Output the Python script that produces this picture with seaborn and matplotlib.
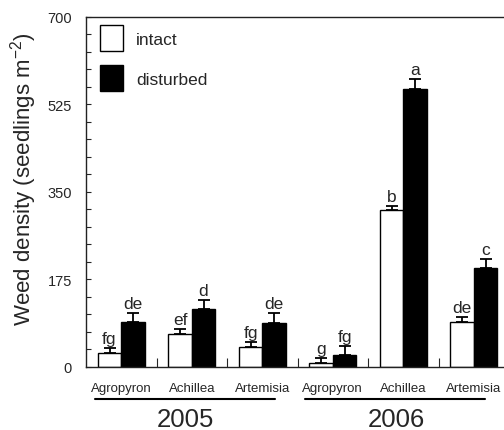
import matplotlib
matplotlib.use("Agg")
import matplotlib.pyplot as plt
import matplotlib.transforms as mtransforms
from matplotlib.patches import Patch
import seaborn as sns
import pandas as pd
import numpy as np

# ---- data ----
years = ["2005", "2006"]
species = ["Agropyron", "Achillea", "Artemisia"]
treatments = ["intact", "disturbed"]
intact = [28.5, 66, 40.5, 8, 313, 90.5]
intact_se = [10, 10, 10, 10, 9, 10]
disturbed = [89, 115, 88.5, 24, 556, 197]
disturbed_se = [19, 18.5, 19, 18.5, 19.5, 18]
letters_intact = ["fg", "ef", "fg", "g", "b", "de"]
letters_disturbed = ["de", "d", "de", "fg", "a", "c"]
y_ticks = [0, 175, 350, 525, 700]

groups = [f"{s} {y}" for y in years for s in species]
species_labels = [s for y in years for s in species]

df = pd.DataFrame({
    "group": groups * 2,
    "treatment": ["intact"] * 6 + ["disturbed"] * 6,
    "density": intact + disturbed,
})

sns.set_theme(style="ticks")
plt.rcParams["font.family"] = ["Liberation Sans", "DejaVu Sans"]
plt.rcParams["mathtext.fontset"] = "custom"
plt.rcParams["mathtext.rm"] = "Liberation Sans"

fig = plt.figure(figsize=(5.04, 4.31), dpi=100)
ax = fig.add_axes([86 / 504, 63 / 431, 423 / 504, 350.5 / 431])

sns.barplot(data=df, x="group", y="density", hue="treatment", order=groups,
            hue_order=treatments, palette={"intact": "white", "disturbed": "black"},
            edgecolor="black", linewidth=1.0, width=2 / 3, errorbar=None,
            legend=False, ax=ax)

# error bars and letters
bars = list(ax.patches)[:12]
heights = intact + disturbed
errs = intact_se + disturbed_se
letters = letters_intact + letters_disturbed
xs = [p.get_x() + p.get_width() / 2 for p in bars]
ax.errorbar(xs, heights, yerr=[np.zeros(12), errs], fmt="none", ecolor="black",
            elinewidth=1.3, capsize=4.5, capthick=1.3, zorder=3)
for x, h, e, t in zip(xs, heights, errs, letters):
    ax.annotate(t, xy=(x, h + e), xytext=(0, 3.5), textcoords="offset points",
                ha="center", va="baseline", fontsize=12.5)

ax.set_xlim(-0.5, 5.5)
ax.set_ylim(0, 700)
ax.set_yticks(y_ticks)
ax.set_yticklabels([str(v) for v in y_ticks])
ax.set_yticks(np.arange(0, 701, 35), minor=True)
ax.tick_params(axis="y", which="both", direction="in", length=3.6, width=0.8,
               labelsize=10.5, pad=10)
ax.set_xticks(range(6))
ax.set_xticklabels(species_labels)
ax.tick_params(axis="x", which="major", length=0, labelsize=9.5, pad=11)
ax.set_xticks(np.arange(0.5, 5, 1), minor=True)
ax.tick_params(axis="x", which="minor", direction="in", length=6.5, width=0.8)
ax.set_xlabel("")
ax.set_ylabel(r"Weed density (seedlings m$^{\mathregular{-2}}$)", fontsize=16)
ax.yaxis.set_label_coords(-0.111, 0.539)
for s in ax.spines.values():
    s.set_linewidth(1.0)
    s.set_color("#222222")

# year lines and labels
trans = mtransforms.blended_transform_factory(ax.transData, ax.transAxes)
year_lines = [(-0.372, 2.18), (2.606, 5.16)]
year_centers = [0.904, 3.904]
for (x0, x1), xc, yr in zip(year_lines, year_centers, years):
    ax.plot([x0, x1], [-0.0913, -0.0913], color="black", lw=1.5,
            transform=trans, clip_on=False)
    ax.text(xc, -0.168, yr, transform=trans, ha="center", va="baseline", fontsize=18.5)

# legend
handles = [Patch(facecolor="white", edgecolor="black", linewidth=1.0, label="intact"),
           Patch(facecolor="black", edgecolor="black", linewidth=1.0, label="disturbed")]
ax.legend(handles=handles, loc="upper left", bbox_to_anchor=(14 / 423, 1 - 9 / 350.5),
          frameon=False, fontsize=12.5, handlelength=1.32, handleheight=1.85,
          labelspacing=0.85, handletextpad=0.75, borderpad=0, borderaxespad=0)

fig.savefig("out.png", dpi=100, facecolor="white")
